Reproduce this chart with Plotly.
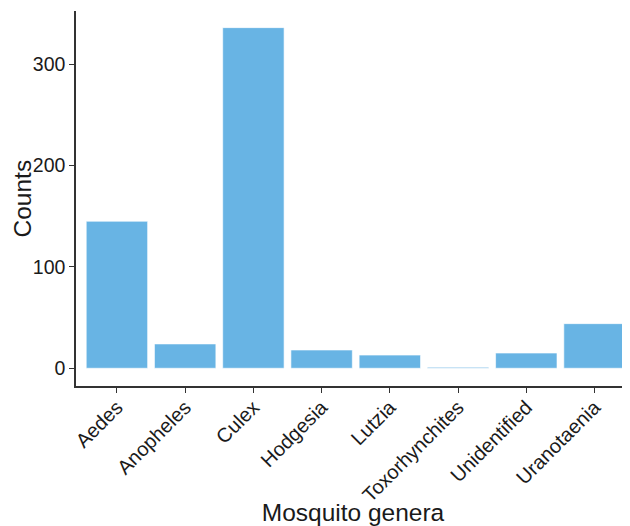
import plotly.graph_objects as go

genera = ["Aedes", "Anopheles", "Culex", "Hodgesia", "Lutzia",
          "Toxorhynchites", "Unidentified", "Uranotaenia"]
counts = [145, 24, 336, 18, 13, 1, 15, 44]
y_ticks = [0, 100, 200, 300]

fig = go.Figure(go.Bar(
    x=genera, y=counts, width=0.9,
    marker=dict(color="#68B4E4", line=dict(color="white", width=0.6)),
))

# The page body has an 8px default margin, so the figure is sized/offset to compensate.
PLOT_W = 554
fig.update_layout(
    width=622, height=518,
    margin=dict(l=68, r=0, t=3, b=140, autoexpand=False),
    plot_bgcolor="white", paper_bgcolor="white",
    font=dict(family="Liberation Sans, Arial", color="#1a1a1a"),
    showlegend=False,
    bargap=0.1,
)
fig.update_xaxes(
    range=[-0.6, 7.52], automargin=False,
    showline=True, linecolor="#333333", linewidth=1.5,
    ticks="outside", ticklen=5, tickcolor="#333333", tickwidth=1.2,
    tickangle=-45, tickfont=dict(size=20, color="#1a1a1a"),
    ticklabelstandoff=-5,
    showgrid=False, zeroline=False,
    title=dict(text="Mosquito genera", font=dict(size=24.5, color="#1a1a1a"), standoff=4),
)
fig.update_yaxes(
    range=[-17.5, 352.4], automargin=False,
    tickvals=y_ticks,
    showline=True, linecolor="#333333", linewidth=1.5,
    ticks="outside", ticklen=5, tickcolor="#333333", tickwidth=1.2,
    tickfont=dict(size=19.5, color="#1a1a1a"),
    showgrid=False, zeroline=False,
)
fig.add_annotation(
    text="Counts", textangle=-90, showarrow=False,
    xref="paper", yref="paper", x=-54 / PLOT_W, y=0.5,
    xanchor="center", yanchor="middle",
    font=dict(size=24.5, color="#1a1a1a"),
)

fig.write_html("out.html")
